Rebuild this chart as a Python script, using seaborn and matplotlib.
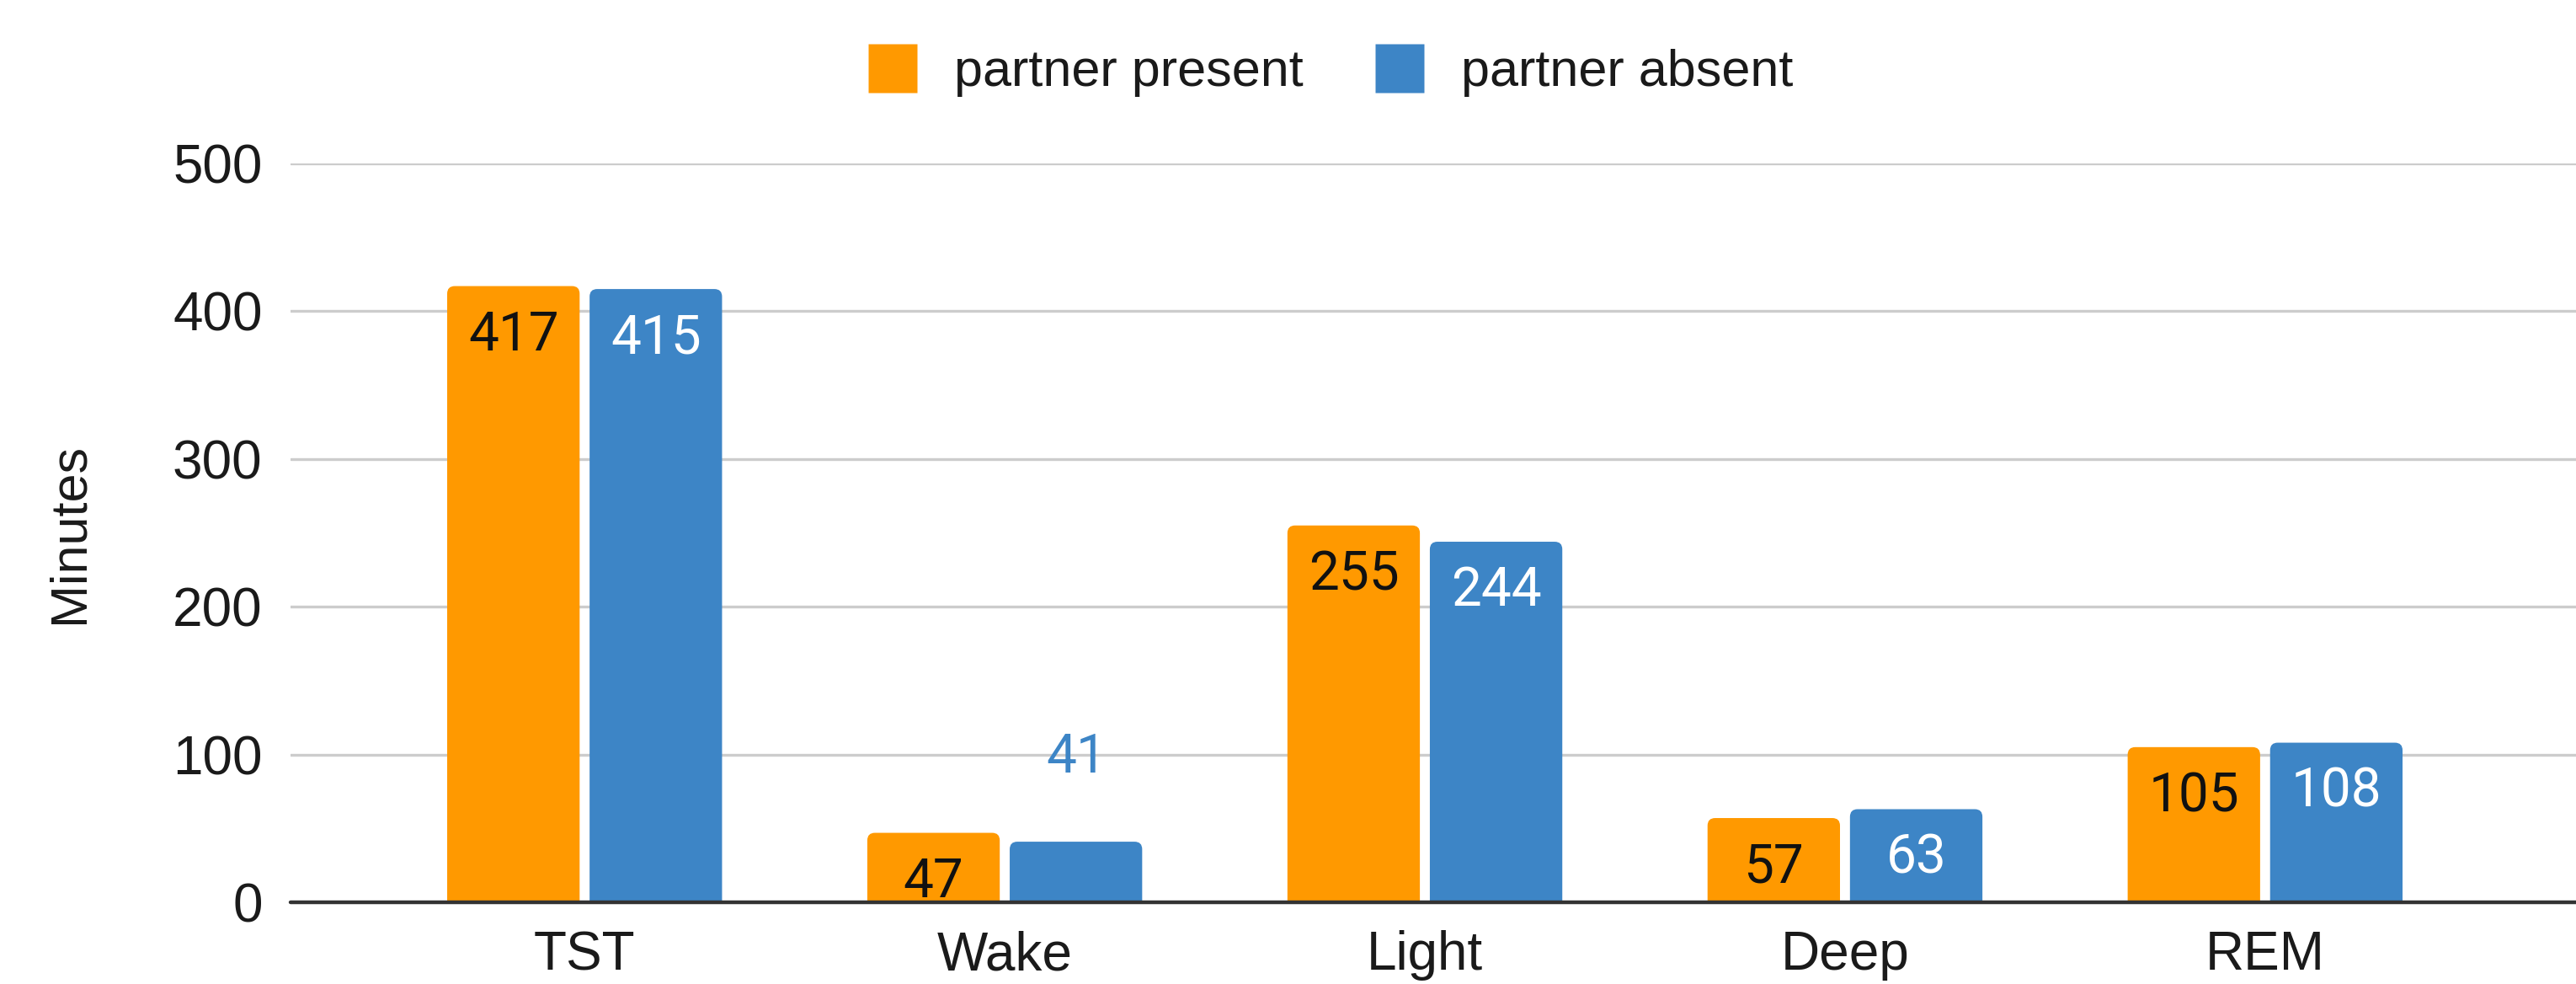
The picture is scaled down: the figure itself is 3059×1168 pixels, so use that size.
import matplotlib
matplotlib.use("Agg")
import matplotlib.pyplot as plt
from matplotlib.patches import FancyBboxPatch
from matplotlib.lines import Line2D
import seaborn as sns
import pandas as pd

# ---- data ----
categories = ["TST", "Wake", "Light", "Deep", "REM"]
partner_present = [417, 47, 255, 57, 105]
partner_absent = [415, 41, 244, 63, 108]
series_names = ["partner present", "partner absent"]
y_ticks = [0, 100, 200, 300, 400, 500]
y_label = "Minutes"

ORANGE = "#ff9900"
BLUE = "#3d85c6"

df = pd.DataFrame({
    "category": categories * 2,
    "minutes": partner_present + partner_absent,
    "series": [series_names[0]] * len(categories) + [series_names[1]] * len(categories),
})

sns.set_style("white")
plt.rcParams["font.family"] = ["Liberation Sans", "DejaVu Sans"]

DPI = 200
fig = plt.figure(figsize=(3059 / DPI, 1168 / DPI), dpi=DPI)
ax = fig.add_axes([345 / 3059, 1 - 1071 / 1168, 1 - 345 / 3059, (1071 - 194) / 1168])

sns.barplot(data=df, x="category", y="minutes", hue="series", order=categories,
            hue_order=series_names, palette=[ORANGE, BLUE], width=0.678, gap=0.07,
            saturation=1, legend=False, ax=ax, zorder=2)

ax.set_xlim(-0.70, 4.74)
ax.set_ylim(0, 500)
ax.set_yticks(y_ticks)
ax.set_yticklabels([str(v) for v in y_ticks])
ax.set_xlabel("")
ax.set_ylabel(y_label, fontsize=22, color="#1a1a1a")
ax.yaxis.set_label_coords((112 - 345) / (3059 - 345), 0.5)

for s in ax.spines.values():
    s.set_visible(False)
ax.tick_params(axis="both", length=0, labelsize=23, colors="#1a1a1a")
ax.tick_params(axis="y", pad=12)
ax.tick_params(axis="x", pad=12)
ax.yaxis.grid(True, color="#cccccc", linewidth=1.2)
ax.xaxis.grid(False)
ax.set_axisbelow(True)
ax.axhline(0, color="#333333", linewidth=1.6, zorder=5, clip_on=False)

# rounded top corners on bars (geometry taken from seaborn's bars)
sx = ax.transData.transform((1, 0))[0] - ax.transData.transform((0, 0))[0]
sy = ax.transData.transform((0, 1))[1] - ax.transData.transform((0, 0))[1]
r_px = 9
colors = [ORANGE, BLUE]
for ci, cont in enumerate(ax.containers):
    for p in cont:
        x, w, h = p.get_x(), p.get_width(), p.get_height()
        fb = FancyBboxPatch((x, -r_px / sy), w, h + r_px / sy,
                            boxstyle=f"round,pad=0,rounding_size={r_px / sx}",
                            mutation_aspect=sx / sy, facecolor=colors[ci],
                            edgecolor="none", zorder=2)
        p.set_visible(False)
        ax.add_patch(fb)

# value labels
label_fam = ["Roboto", "DejaVu Sans"]
inside_colors = ["#111111", "white"]
for ci, cont in enumerate(ax.containers):
    vals = [partner_present, partner_absent][ci]
    for p, v in zip(cont, vals):
        xc = p.get_x() + p.get_width() / 2
        top = p.get_height()
        if top * sy >= 78:
            ax.annotate(str(v), (xc, top), xytext=(0, -27.5), textcoords="offset points",
                        ha="center", va="baseline", fontsize=23, family=label_fam,
                        color=inside_colors[ci], zorder=6)
        else:
            ax.annotate(str(v), (xc, top), xytext=(0, 36), textcoords="offset points",
                        ha="center", va="center", fontsize=23, family=label_fam,
                        color=colors[ci], zorder=6)

handles = [Line2D([0], [0], marker="s", linestyle="none", markersize=21,
                  markerfacecolor=c, markeredgecolor="none") for c in colors]
fig.legend(handles, series_names, loc="center", bbox_to_anchor=(0.5163, 0.926),
           ncol=2, frameon=False, fontsize=22, handlelength=1.0, handletextpad=0.69,
           columnspacing=1.38, borderpad=0, labelcolor="#1a1a1a")

fig.savefig("out.png", dpi=DPI)
